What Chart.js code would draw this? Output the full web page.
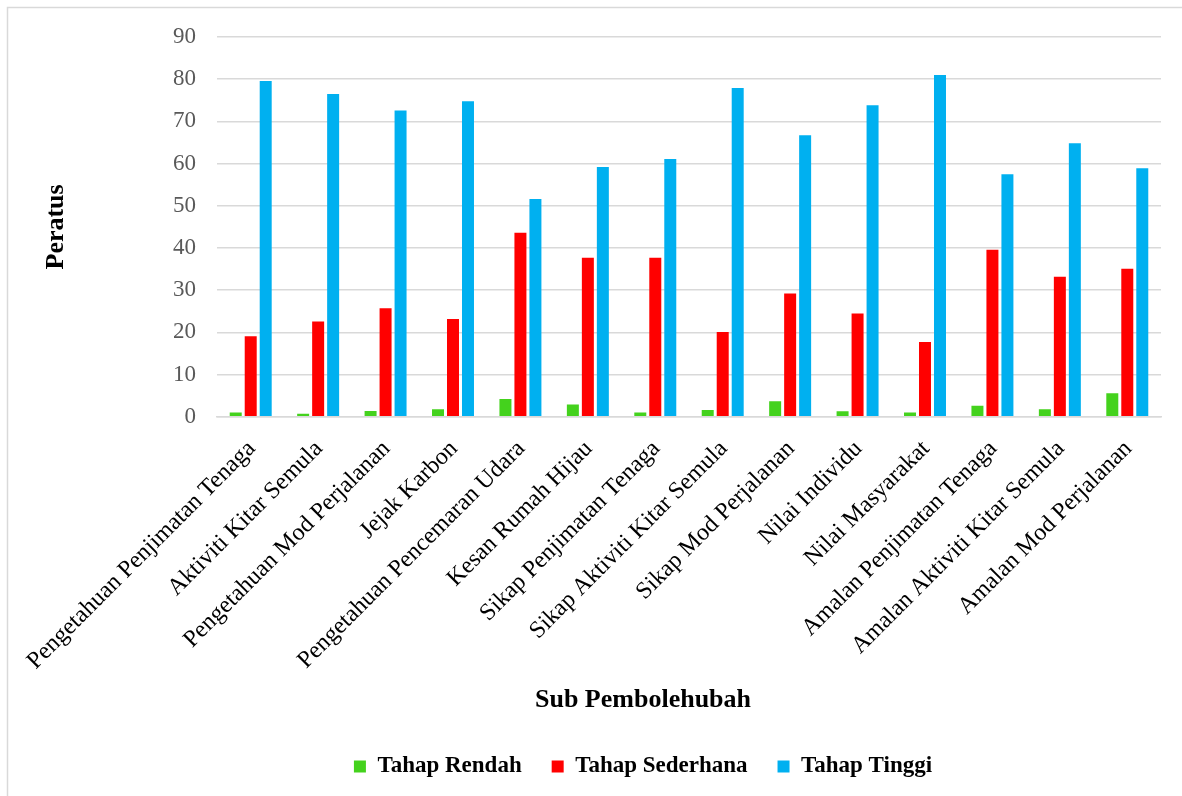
<!DOCTYPE html>
<html>
<head>
<meta charset="utf-8">
<title>Sub Pembolehubah</title>
<script src="https://cdn.jsdelivr.net/npm/chart.js@4.4.1/dist/chart.umd.min.js"></script>
<style>
  html, body { margin: 0; padding: 0; background: #fff; }
  canvas { display: block; }
</style>
</head>
<body>
<canvas id="subChart" width="1182" height="796"></canvas>
<script>
const categories = [
    'Pengetahuan Penjimatan Tenaga',
    'Aktiviti Kitar Semula',
    'Pengetahuan Mod Perjalanan',
    'Jejak Karbon',
    'Pengetahuan Pencemaran Udara',
    'Kesan Rumah Hijau',
    'Sikap Penjimatan Tenaga',
    'Sikap Aktiviti Kitar Semula',
    'Sikap Mod Perjalanan',
    'Nilai Individu',
    'Nilai Masyarakat',
    'Amalan Penjimatan Tenaga',
    'Amalan Aktiviti Kitar Semula',
    'Amalan Mod Perjalanan'
];
const tahapRendah = [1.0, 0.7, 1.4, 1.8, 4.2, 2.9, 1.0, 1.6, 3.7, 1.3, 1.0, 2.6, 1.8, 5.6];
const tahapSederhana = [19.1, 22.6, 25.7, 23.2, 43.6, 37.7, 37.7, 20.1, 29.2, 24.5, 17.7, 39.6, 33.2, 35.1];
const tahapTinggi = [79.6, 76.5, 72.6, 74.8, 51.6, 59.2, 61.1, 77.9, 66.7, 73.8, 81.0, 57.5, 64.8, 58.9];
const seriesNames = ['Tahap Rendah', 'Tahap Sederhana', 'Tahap Tinggi'];
const seriesColors = ['#44d21d', '#ff0000', '#00b0f0'];
const yTicks = [0, 10, 20, 30, 40, 50, 60, 70, 80, 90];

const serif = "'Liberation Serif', 'Times New Roman', serif";

// white background + thin frame on the left and top like the original export
const framePlugin = {
    id: 'frame',
    beforeDraw(chart) {
        const ctx = chart.ctx;
        ctx.save();
        ctx.fillStyle = '#ffffff';
        ctx.fillRect(0, 0, chart.width, chart.height);
        ctx.strokeStyle = '#d9d9d9';
        ctx.lineWidth = 1.5;
        ctx.beginPath();
        ctx.moveTo(7.5, chart.height);
        ctx.lineTo(7.5, 7.5);
        ctx.lineTo(chart.width, 7.5);
        ctx.stroke();
        ctx.restore();
    }
};

const ctx = document.getElementById('subChart').getContext('2d');
new Chart(ctx, {
    type: 'bar',
    data: {
        labels: categories,
        datasets: [tahapRendah, tahapSederhana, tahapTinggi].map((values, i) => ({
            label: seriesNames[i],
            data: values,
            backgroundColor: seriesColors[i],
            borderWidth: 0,
            categoryPercentage: 0.667,
            barPercentage: 0.8
        }))
    },
    options: {
        responsive: false,
        animation: false,
        layout: {
            padding: { left: 125, right: 21, top: 37, bottom: 8 }
        },
        scales: {
            x: {
                grid: { display: false, drawTicks: false },
                border: { display: true, color: '#d9d9d9', width: 1.5 },
                ticks: {
                    autoSkip: false,
                    minRotation: 45,
                    maxRotation: 45,
                    padding: 18,
                    labelOffset: 1,
                    color: '#000000',
                    font: { family: serif, size: 24 }
                },
                afterFit(scale) { scale.height = 260; }
            },
            y: {
                min: 0,
                max: 90,
                grid: { color: '#d9d9d9', lineWidth: 1.5, drawTicks: false },
                border: { display: false },
                afterBuildTicks(scale) { scale.ticks = yTicks.map(v => ({ value: v })); },
                ticks: {
                    padding: 21,
                    color: '#595959',
                    font: { family: serif, size: 23 }
                },
                title: {
                    display: true,
                    text: 'Peratus',
                    color: '#000000',
                    padding: { top: -84, bottom: 0 },
                    font: { family: serif, size: 26, weight: 'bold' }
                },
                afterFit(scale) { scale.width = 92; }
            }
        },
        plugins: {
            title: {
                display: true,
                text: 'Sub Pembolehubah',
                position: 'bottom',
                weight: 500,
                color: '#000000',
                padding: { top: 8, bottom: 9 },
                font: { family: serif, size: 26, weight: 'bold' }
            },
            legend: {
                position: 'bottom',
                weight: 1000,
                labels: {
                    boxWidth: 12,
                    boxHeight: 12,
                    padding: 30,
                    color: '#000000',
                    font: { family: serif, size: 23, weight: 'bold' }
                }
            },
            tooltip: { enabled: false }
        }
    },
    plugins: [framePlugin]
});
</script>
</body>
</html>
